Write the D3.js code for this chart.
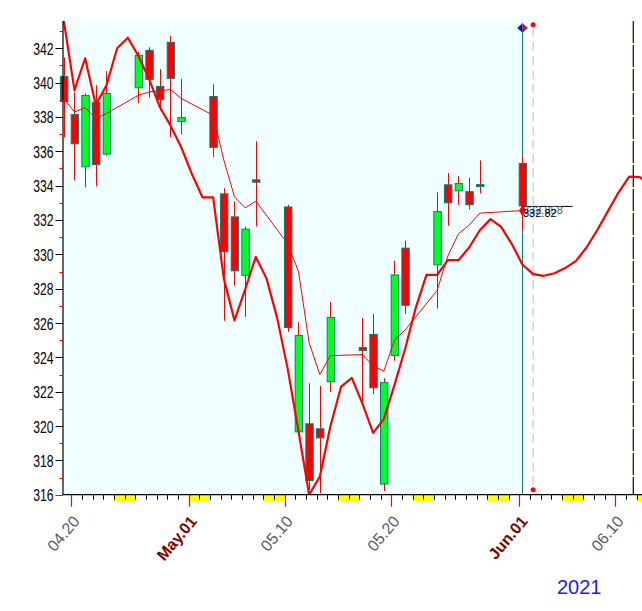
<!DOCTYPE html>
<html><head><meta charset="utf-8">
<script src="https://cdn.jsdelivr.net/npm/d3@7/dist/d3.min.js"></script>
<style>body{margin:0;background:#fff}svg{display:block}</style>
</head><body>
<svg id="chart" width="642" height="611"></svg>
<script>
// ---------- data ----------
const tradeDates = ["2021-04-19","2021-04-20","2021-04-21","2021-04-22","2021-04-23",
  "2021-04-26","2021-04-27","2021-04-28","2021-04-29","2021-04-30",
  "2021-05-03","2021-05-04","2021-05-05","2021-05-06","2021-05-07",
  "2021-05-10","2021-05-11","2021-05-12","2021-05-13","2021-05-14",
  "2021-05-17","2021-05-18","2021-05-19","2021-05-20","2021-05-21",
  "2021-05-24","2021-05-25","2021-05-26","2021-05-27","2021-05-28",
  "2021-06-01"];
const opens  = [340.36,338.14,335.10,338.84,335.84, 339.70,341.88,339.78,342.35,337.73,
  339.19,333.52,332.18,328.78,334.34, 332.76,319.66,320.13,319.84,322.58,
  324.57,325.33,316.62,324.10,330.36, 329.39,334.05,333.70,333.65,334.06, 335.29];
const highs  = [341.47,339.44,339.37,339.85,340.67, 341.80,342.06,340.79,342.72,340.22,
  339.91,333.85,333.07,331.61,336.58, 332.89,326.05,322.49,322.33,327.22,
  326.29,326.54,322.78,329.62,330.79, 333.61,334.73,334.55,334.47,335.47, 335.72];
const lows   = [336.83,334.30,333.91,333.96,335.76, 338.82,339.13,338.39,336.83,336.99,
  335.66,326.13,328.18,326.36,331.63, 325.49,319.60,316.30,316.10,321.98,
  321.22,321.86,316.21,323.81,326.54, 326.84,331.67,332.88,332.62,333.56, 331.37];
const closes = [338.90,336.44,339.25,335.22,339.37, 341.59,340.19,339.02,340.25,337.96,
  336.23,330.15,329.04,331.47,334.20, 325.74,325.27,316.83,319.31,326.33,
  324.40,322.23,322.53,328.80,327.03, 332.49,333.00,334.12,332.89,333.95, 332.82];
// thin average line, one value per trading day
const avgLine = [339.08,338.29,338.55,337.91,338.20, 339.27,339.46,339.52,339.60,339.08,
  338.10,335.50,333.35,332.70,333.10, 330.60,329.00,324.85,323.00,324.10,
  324.16,323.50,323.20,325.00,325.60, 327.90,329.90,331.20,331.70,332.40, 332.55];
// thick cycle line, one value per calendar day from 2021-04-19
const cycleStart = "2021-04-19";
const cycleLine = [343.6,339.56,341.42,338.70,339.85,342.00,342.62,341.55,340.20,338.58,
  337.51,336.25,334.69,333.32,333.32,328.60,326.15,327.96,329.85,328.60,
  326.30,323.30,319.70,316.00,317.05,320.00,322.30,322.80,321.30,319.60,
  320.40,322.40,324.50,326.90,328.80,328.80,329.66,329.66,330.40,331.40,
  332.05,331.60,330.60,329.40,328.85,328.75,328.90,329.20,329.60,330.40,
  331.40,332.50,333.60,334.53,334.50,334.00];
const yTickValues = [316,318,320,322,324,326,328,330,332,334,336,338,340,342];
const yMinorValues = [317,319,321,323,325,327,329,331,333,335,337,339,341,343];
const xMajor = [
  {date:"2021-04-20", label:"04.20", month:false},
  {date:"2021-05-01", label:"May.01", month:true},
  {date:"2021-05-10", label:"05.10", month:false},
  {date:"2021-05-20", label:"05.20", month:false},
  {date:"2021-06-01", label:"Jun.01", month:true},
  {date:"2021-06-10", label:"06.10", month:false}];
const currentDate = "2021-06-01";
const nextDate = "2021-06-02";
const turnDate = "2021-06-11T16:20";
const priceLabels = ["332.858","332.82"];
const yearLabel = "2021";

// ---------- setup ----------
const W = 642, H = 611;
const svg = d3.select("#chart");
const parse = s => new Date(s.length > 10 ? s + ":00Z" : s + "T00:00:00Z");
const center = s => d3.utcHour.offset(parse(s), 7.5);

const x = d3.scaleUtc()
  .domain([parse("2021-04-19"), parse("2021-06-14")])
  .range([60.7, 60.7 + 56 * 10.667]);
const y = d3.scaleLinear().domain([316, 342]).range([494.7, 48.3]);

const plotLeft = 63, plotTop = 21, plotBottom = y(316);
const curX = x(center(currentDate));

svg.append("defs").append("clipPath").attr("id","clip")
  .append("rect").attr("x", plotLeft).attr("y", plotTop).attr("width", W - plotLeft).attr("height", plotBottom - plotTop);

// plot background
svg.append("rect").attr("x", plotLeft).attr("y", plotTop)
  .attr("width", curX - plotLeft).attr("height", plotBottom - plotTop).attr("fill", "#f0ffff");

// turning line (navy / yellow dashed)
const tx = x(parse(turnDate));
svg.append("line").attr("x1", tx).attr("x2", tx).attr("y1", plotTop).attr("y2", plotBottom)
  .attr("stroke", "#ffff00").attr("stroke-width", 1.2);
svg.append("line").attr("x1", tx).attr("x2", tx).attr("y1", plotTop).attr("y2", plotBottom)
  .attr("stroke", "#000080").attr("stroke-width", 1.2).attr("stroke-dasharray", "22,2");

// next-day gray dashed line
const nx = x(center(nextDate));
svg.append("line").attr("x1", nx).attr("x2", nx).attr("y1", 28).attr("y2", 490)
  .attr("stroke", "#c0c0c0").attr("stroke-width", 1).attr("stroke-dasharray", "9,5");

// current-day teal line
svg.append("line").attr("x1", curX).attr("x2", curX).attr("y1", 28).attr("y2", plotBottom)
  .attr("stroke", "#008080").attr("stroke-width", 1);

// candles
const candles = tradeDates.map((d, i) => ({d, o: opens[i], h: highs[i], l: lows[i], c: closes[i]}));
const cg = svg.append("g");
cg.selectAll("line.w").data(candles).join("line")
  .attr("x1", d => Math.round(x(center(d.d))) + 0.5).attr("x2", d => Math.round(x(center(d.d))) + 0.5)
  .attr("y1", d => y(d.h)).attr("y2", d => y(d.l))
  .attr("stroke", "#ff0000").attr("stroke-width", 1);
cg.selectAll("rect.b").data(candles).join("rect")
  .attr("x", d => x(center(d.d)) - 3.3).attr("width", 7.4)
  .attr("y", d => y(Math.max(d.o, d.c)))
  .attr("height", d => Math.max(2, Math.abs(y(d.o) - y(d.c))))
  .attr("fill", d => d.c >= d.o ? "#00ff22" : "#ff0000")
  .attr("stroke", "#008080").attr("stroke-width", 1);

// lines
const lg = svg.append("g").attr("clip-path", "url(#clip)");
const cycleData = cycleLine.map((v, i) => ({t: d3.utcHour.offset(d3.utcDay.offset(parse(cycleStart), i), 7.5), v}));
lg.append("path").datum(cycleData)
  .attr("d", d3.line().x(d => x(d.t)).y(d => y(d.v)))
  .attr("fill", "none").attr("stroke", "#ff0000").attr("stroke-width", 2.2).attr("stroke-linejoin", "round");
const avgData = tradeDates.map((d, i) => ({t: center(d), v: avgLine[i]}));
lg.append("path").datum(avgData)
  .attr("d", d3.line().x(d => x(d.t)).y(d => y(d.v)))
  .attr("fill", "none").attr("stroke", "#ff0000").attr("stroke-width", 1);

// markers
const lastAvg = avgData[avgData.length - 1];
svg.append("path").attr("d", d3.symbol(d3.symbolDiamond, 40)())
  .attr("transform", `translate(${curX},${y(lastAvg.v)})`).attr("fill", "#ff0000");
const lastClose = closes[closes.length - 1];
svg.append("line").attr("x1", curX).attr("x2", curX + 50).attr("y1", y(lastClose) + 0.5).attr("y2", y(lastClose) + 0.5)
  .attr("stroke", "#000").attr("stroke-width", 1);
svg.append("text").attr("x", curX + 0.5).attr("y", y(lastClose) + 8)
  .attr("font-family", "Liberation Sans, Arial, sans-serif").attr("font-size", 11)
  .attr("fill", "#4a5a80").text(priceLabels[0]);
svg.append("text").attr("x", curX + 0.5).attr("y", y(lastClose) + 11.3)
  .attr("font-family", "Liberation Sans, Arial, sans-serif").attr("font-size", 11)
  .attr("fill", "#000").text(priceLabels[1]);

// top diamond (blue / red halves)
const dy0 = 28;
svg.append("path").attr("d", `M${curX},${dy0-4.5}L${curX-5},${dy0}L${curX},${dy0+4.5}Z`).attr("fill", "#0000ff");
svg.append("path").attr("d", `M${curX},${dy0-4.5}L${curX+5},${dy0}L${curX},${dy0+4.5}Z`).attr("fill", "#ff0000");
svg.append("path").attr("d", `M${curX},${dy0-4.5}L${curX-5},${dy0}L${curX},${dy0+4.5}L${curX+5},${dy0}Z`)
  .attr("fill", "none").attr("stroke", "#008080").attr("stroke-width", 1);
svg.append("circle").attr("cx", nx).attr("cy", 24.7).attr("r", 2.5).attr("fill", "#ff0000");
svg.append("circle").attr("cx", nx).attr("cy", 489.7).attr("r", 2.5).attr("fill", "#ff0000");

// ---------- x axis ----------
const sats = d3.utcSaturday.range(parse("2021-04-20"), parse("2021-06-14"));
svg.selectAll("rect.we").data(sats).join("rect")
  .attr("x", d => x(d)).attr("width", d => Math.min(W, x(d3.utcDay.offset(d, 2))) - x(d))
  .attr("y", plotBottom).attr("height", 6.6).attr("fill", "#ffff00");
const majorSet = new Set(xMajor.map(m => m.date));
const days = d3.utcDay.range(parse("2021-04-20"), parse("2021-06-13"))
  .filter(d => !majorSet.has(d.toISOString().slice(0, 10)));
svg.selectAll("line.dt").data(days).join("line")
  .attr("x1", d => Math.round(x(d)) + 0.5).attr("x2", d => Math.round(x(d)) + 0.5)
  .attr("y1", plotBottom).attr("y2", plotBottom + 5).attr("stroke", "#000").attr("stroke-width", 1);
svg.selectAll("line.mt").data(xMajor).join("line")
  .attr("x1", d => Math.round(x(parse(d.date))) + 0.5).attr("x2", d => Math.round(x(parse(d.date))) + 0.5)
  .attr("y1", plotBottom).attr("y2", plotBottom + 12).attr("stroke", "#ff0000").attr("stroke-width", 1.2);
svg.append("line").attr("x1", plotLeft).attr("x2", W).attr("y1", plotBottom).attr("y2", plotBottom)
  .attr("stroke", "#000").attr("stroke-width", 1.2);
svg.selectAll("text.xl").data(xMajor).join("text")
  .attr("transform", d => `translate(${x(parse(d.date)) + 9},${plotBottom + 27}) rotate(-50)`)
  .attr("text-anchor", "end")
  .attr("font-family", "Liberation Sans, Arial, sans-serif")
  .attr("font-size", 16)
  .attr("font-weight", d => d.month ? "bold" : "normal")
  .attr("fill", d => d.month ? "#800000" : "#555a66")
  .text(d => d.label);

// ---------- y axis ----------
svg.append("line").attr("x1", plotLeft).attr("x2", plotLeft).attr("y1", plotTop).attr("y2", plotBottom)
  .attr("stroke", "#000").attr("stroke-width", 1.2);
svg.selectAll("line.ym").data(yMinorValues).join("line")
  .attr("x1", plotLeft - 3.5).attr("x2", plotLeft).attr("y1", d => Math.round(y(d)) + 0.5).attr("y2", d => Math.round(y(d)) + 0.5)
  .attr("stroke", "#ff0000").attr("stroke-width", 1);
svg.selectAll("line.yM").data(yTickValues).join("line")
  .attr("x1", plotLeft - 7.5).attr("x2", plotLeft).attr("y1", d => Math.round(y(d)) + 0.5).attr("y2", d => Math.round(y(d)) + 0.5)
  .attr("stroke", d => d === 316 ? "#ff0000" : "#000").attr("stroke-width", 1);
svg.selectAll("text.yl").data(yTickValues).join("text")
  .attr("transform", d => `translate(53.5,${y(d) + 6.5}) scale(0.76,1)`)
  .attr("text-anchor", "end")
  .attr("font-family", "Liberation Sans, Arial, sans-serif").attr("font-size", 16)
  .attr("fill", "#000").text(d => d);

// year
svg.append("text").attr("x", 557).attr("y", 593.5)
  .attr("font-family", "Liberation Sans, Arial, sans-serif").attr("font-size", 20)
  .attr("fill", "#1a1aff").text(yearLabel);
</script>
</body></html>
